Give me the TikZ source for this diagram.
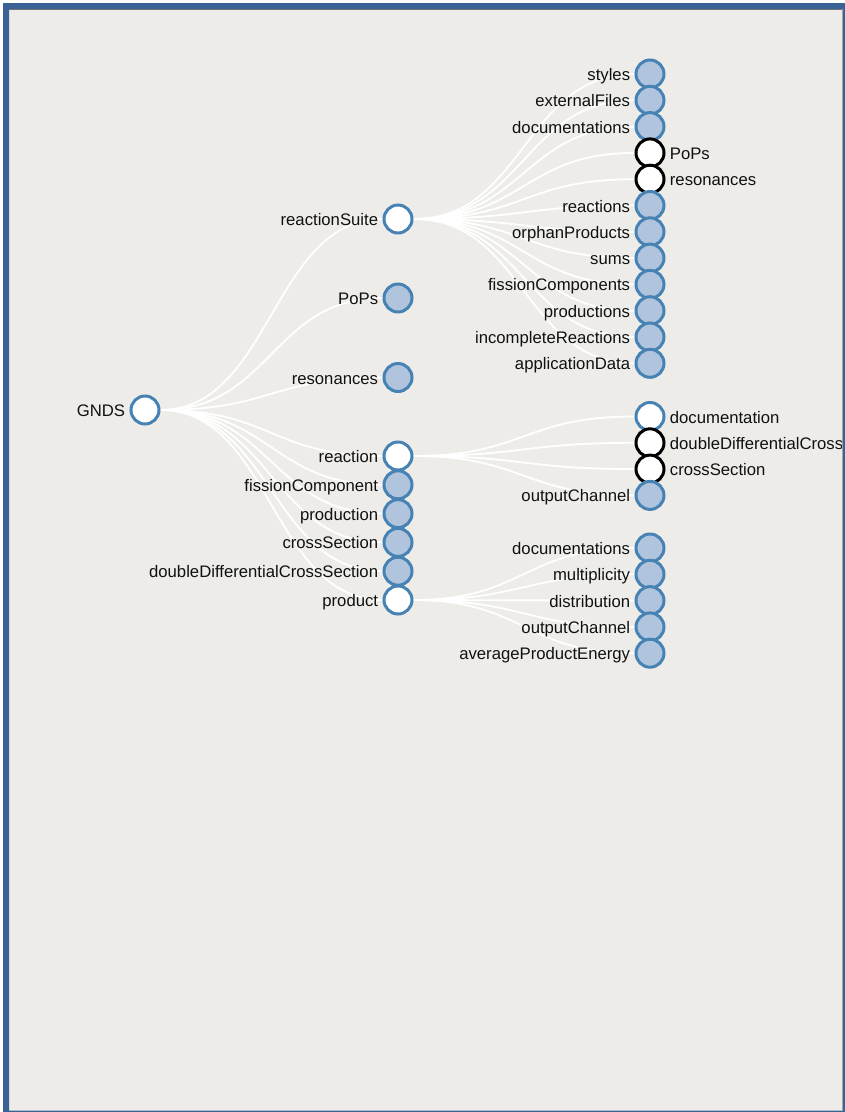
\documentclass[tikz,border=0pt]{standalone}
\usepackage{fontspec}
\setmainfont{Liberation Sans}
\usetikzlibrary{backgrounds}
\definecolor{framebl}{HTML}{3B6297}
\definecolor{panel}{HTML}{EDECE8}
\definecolor{steel}{HTML}{4682B4}
\definecolor{steellt}{HTML}{B0C4DE}
\definecolor{ink}{HTML}{111111}
\pgfdeclarelayer{edges}
\pgfsetlayers{background,edges,main}
\tikzset{
  nd/.style={circle, draw=steel, line width=3pt, fill=steellt, minimum size=28pt, inner sep=0pt},
  ndw/.style={nd, fill=white},
  ndk/.style={nd, fill=white, draw=black},
  lbl/.style={font=\fontsize{16.7}{19}\selectfont, text=ink, inner sep=0pt},
  lbll/.style={lbl, anchor=base east, xshift=-19.7pt, yshift=-6.5pt},
  lblr/.style={lbl, anchor=base west, xshift=19.7pt, yshift=-6.5pt},
  tlink/.style={draw=white, line width=1.8pt, to path={.. controls +(126,0) and +(-126,0) .. (\tikztotarget)}},
}

\begin{document}
\begin{tikzpicture}[x=1pt, y=-1pt]
  \useasboundingbox (0,0) rectangle (845,1112);
  \begin{pgfonlayer}{background}
    \fill[white] (0,0) rectangle (845,1112);
    \fill[panel] (9,9) rectangle (842.5,1110.5);
  \end{pgfonlayer}

  \node[ndw] (gnds) at (145,410) {};
  \node[lbll] (gnds-t) at (gnds.center) {GNDS};

  \foreach \n/\y/\t/\s in {rsuite/219/reactionSuite/ndw, pops/298/PoPs/nd, reson/377.5/resonances/nd,
      reac/456/reaction/ndw, fcomp/484.8/fissionComponent/nd, prodn/513.6/production/nd,
      xsec/542.4/crossSection/nd, ddxs/571.2/doubleDifferentialCrossSection/nd, prod/600/product/ndw}{
    \node[\s] (\n) at (398,\y) {};
    \node[lbll] (\n-t) at (\n.center) {\t};
    \begin{pgfonlayer}{edges}\draw[tlink] (gnds) to (\n);\end{pgfonlayer}
  }

  \foreach \i/\t/\s/\l in {0/styles/nd/lbll, 1/externalFiles/nd/lbll, 2/documentations/nd/lbll,
      3/PoPs/ndk/lblr, 4/resonances/ndk/lblr, 5/reactions/nd/lbll, 6/orphanProducts/nd/lbll,
      7/sums/nd/lbll, 8/fissionComponents/nd/lbll, 9/productions/nd/lbll,
      10/incompleteReactions/nd/lbll, 11/applicationData/nd/lbll}{
    \node[\s] (rs\i) at (650,{74+26.3*\i}) {};
    \node[\l] (rs\i-t) at (rs\i.center) {\t};
    \begin{pgfonlayer}{edges}\draw[tlink] (rsuite) to (rs\i);\end{pgfonlayer}
  }

  \foreach \i/\t/\s/\l in {0/documentation/ndw/lblr, 1/doubleDifferentialCrossSection/ndk/lblr,
      2/crossSection/ndk/lblr, 3/outputChannel/nd/lbll}{
    \node[\s] (rc\i) at (650,{416.5+26.3*\i}) {};
    \node[\l] (rc\i-t) at (rc\i.center) {\t};
    \begin{pgfonlayer}{edges}\draw[tlink] (reac) to (rc\i);\end{pgfonlayer}
  }

  \foreach \i/\t in {0/documentations, 1/multiplicity, 2/distribution, 3/outputChannel, 4/averageProductEnergy}{
    \node[nd] (pr\i) at (650,{548+26.3*\i}) {};
    \node[lbll] (pr\i-t) at (pr\i.center) {\t};
    \begin{pgfonlayer}{edges}\draw[tlink] (prod) to (pr\i);\end{pgfonlayer}
  }

  \fill[framebl, even odd rule] (3,3) rectangle (845,1112) (9,9) rectangle (842.5,1110.5);
  \draw[black!55, line width=1pt] (9,9.5) -- (842.5,9.5);
  \draw[black!35, line width=.6pt] (842.2,9) -- (842.2,1110.5);
\end{tikzpicture}
\end{document}
